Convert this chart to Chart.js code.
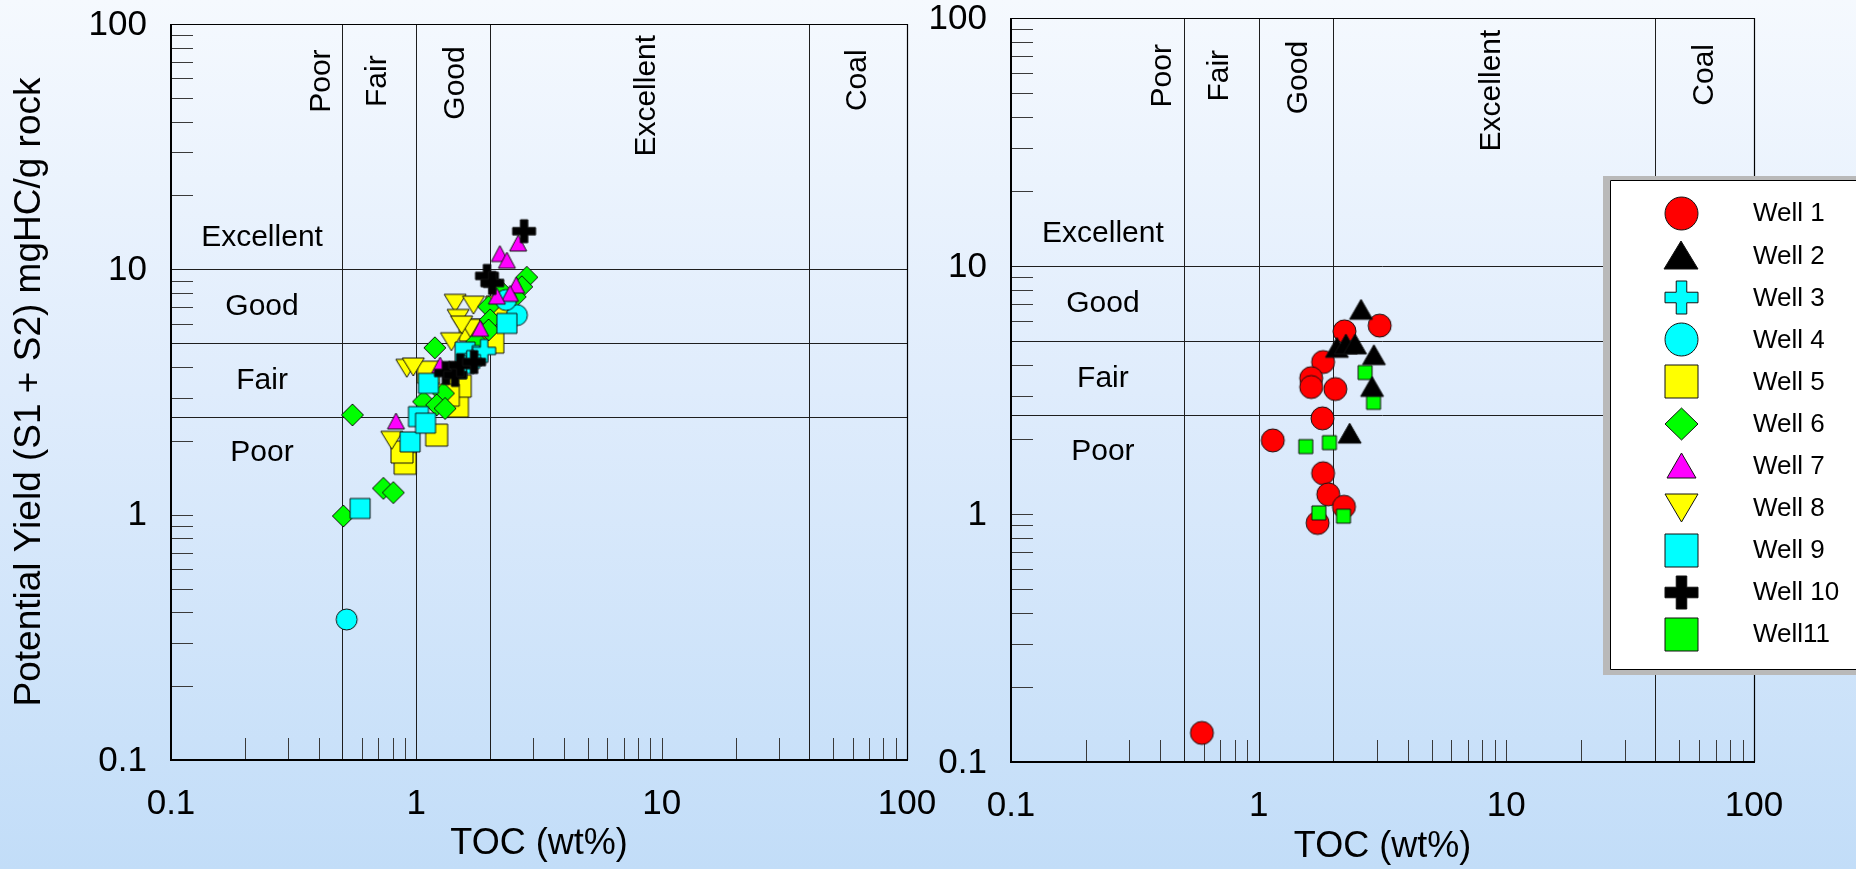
<!DOCTYPE html>
<html>
<head>
<meta charset="utf-8">
<script src="https://cdn.jsdelivr.net/npm/chart.js@4.4.1/dist/chart.umd.min.js"></script>
<style>
html,body{margin:0;padding:0;width:1856px;height:869px;overflow:hidden;
  background:linear-gradient(to bottom,#f5f9fe 0%,#dfecfc 45%,#c2ddf8 100%);}
canvas{position:absolute;top:0;}
#c1{left:0;}
#c2{left:850px;}
</style>
</head>
<body>
<canvas id="c1" width="960" height="869"></canvas>
<canvas id="c2" width="1006" height="869"></canvas>
<script>
// ---------------- DATA ----------------
const wellNames = ['Well 1','Well 2','Well 3','Well 4','Well 5','Well 6','Well 7','Well 8','Well 9','Well 10','Well11'];

// [TOC wt%, S1+S2 mgHC/g rock]
const well1 = [[3.08,5.75],[2.22,5.45],[1.82,4.10],[1.63,3.53],[1.63,3.25],[2.04,3.19],[1.81,2.43],[1.14,1.98],[1.82,1.46],[1.91,1.20],[2.21,1.07],[1.73,0.92],[0.59,0.131]];
const well2 = [[2.59,6.69],[2.07,4.70],[2.25,4.85],[2.45,4.85],[2.92,4.39],[2.87,3.27],[2.33,2.12]];
const well3 = [[1.75,4.39],[1.55,3.99],[1.89,4.65],[1.66,4.19]];
const well4 = [[0.52,0.374],[2.57,6.51],[2.32,7.5]];
const well5 = [[0.90,1.62],[0.874,1.80],[1.21,2.11],[1.47,2.77],[1.51,3.34],[1.12,3.81],[1.94,5.30],[2.13,7.02],[2.05,5.05],[1.35,3.07],[1.66,5.66]];
const well6 = [[0.504,0.987],[0.734,1.28],[0.806,1.23],[0.549,2.55],[1.19,4.79],[2.82,9.28],[2.69,8.49],[2.53,7.73],[1.97,7.04],[2.0,6.22],[1.97,5.66],[1.07,2.89],[1.29,3.12],[1.21,2.80],[1.31,2.71],[1.76,5.07],[2.19,8.23]];
const well7 = [[2.19,11.6],[2.34,10.9],[2.6,12.8],[2.55,8.63],[2.41,7.98],[1.82,5.75],[0.826,2.41],[1.25,4.07],[2.13,7.78]];
const well8 = [[1.44,7.27],[1.71,7.15],[1.48,6.31],[1.66,5.75],[1.53,5.93],[1.39,5.07],[0.914,3.95],[0.972,4.0],[0.794,2.01]];
const well9 = [[0.59,1.06],[0.943,1.98],[1.02,2.51],[1.09,2.36],[1.12,3.43],[2.34,6.02],[1.58,4.60]];
const well10 = [[2.75,14.3],[1.94,9.4],[2.04,8.8],[1.32,3.78],[1.44,3.71],[1.51,4.07],[1.72,4.19]];
const well11 = [[2.69,3.72],[2.91,2.82],[1.55,1.87],[1.93,1.94],[1.75,1.01],[2.20,0.98]];

const majorTicks = [0.1, 1, 10, 100];
const majorTickLabels = ['0.1', '1', '10', '100'];
const minorTicks = [0.2,0.3,0.4,0.5,0.6,0.7,0.8,0.9,1,2,3,4,5,6,7,8,9,10,20,30,40,50,60,70,80,90];
const tocZoneLines = [0.5, 1, 2, 40];
const yieldZoneLines = [2.5, 5, 10];
const tocClassLabels = ['Poor', 'Fair', 'Good', 'Excellent', 'Coal'];
const yieldClassLabels = ['Excellent', 'Good', 'Fair', 'Poor'];
const xTitle = 'TOC (wt%)';
const yTitle = 'Potential Yield (S1 + S2) mgHC/g rock';

// ---------------- LAYOUT / STYLE ----------------
const FONT = '"Liberation Sans", Arial, Helvetica, sans-serif';
Chart.defaults.font.family = FONT;
Chart.defaults.color = '#000';

// label anchor positions in data units [TOC, yield]
const tocClassPos = [[0.41,58.5],[0.695,58.5],[1.45,57.5],[8.7,51],[63,59]];
const yieldClassPos = [[0.235,13.5],[0.235,7.05],[0.235,3.5],[0.235,1.78]];

const wellStyle = [
  {shape:'circle',  fill:'#ff0000', w:23, h:23, lw:33, lh:33},
  {shape:'triUp',   fill:'#000000', w:23, h:20, lw:34, lh:28},
  {shape:'plus',    fill:'#00ffff', w:23, h:23, lw:33, lh:33},
  {shape:'circle',  fill:'#00ffff', w:21, h:21, lw:33, lh:33},
  {shape:'square',  fill:'#ffff00', w:22, h:22, lw:33, lh:33},
  {shape:'diamond', fill:'#00ff00', w:22, h:22, lw:33, lh:32},
  {shape:'triUp',   fill:'#ff00ff', w:17, h:16, lw:29, lh:25},
  {shape:'triDown', fill:'#ffff00', w:22, h:18, lw:33, lh:28},
  {shape:'square',  fill:'#00ffff', w:20, h:20, lw:33, lh:33},
  {shape:'plus',    fill:'#000000', w:23, h:23, lw:33, lh:33},
  {shape:'square',  fill:'#00ff00', w:14, h:14, lw:33, lh:33}
];

function markerCanvas(st, w, h) {
  const pad = 2;
  const c = document.createElement('canvas');
  c.width = Math.round(w) + pad * 2;
  c.height = Math.round(h) + pad * 2;
  const g = c.getContext('2d');
  g.translate(c.width / 2, c.height / 2);
  const hw = w / 2, hh = h / 2;
  g.beginPath();
  if (st.shape === 'circle') g.ellipse(0, 0, hw, hh, 0, 0, Math.PI * 2);
  else if (st.shape === 'square') g.rect(-hw, -hh, w, h);
  else if (st.shape === 'diamond') { g.moveTo(0,-hh); g.lineTo(hw,0); g.lineTo(0,hh); g.lineTo(-hw,0); g.closePath(); }
  else if (st.shape === 'triUp') { g.moveTo(0,-hh); g.lineTo(hw,hh); g.lineTo(-hw,hh); g.closePath(); }
  else if (st.shape === 'triDown') { g.moveTo(-hw,-hh); g.lineTo(hw,-hh); g.lineTo(0,hh); g.closePath(); }
  else if (st.shape === 'plus') {
    const t = w * 0.16;
    g.moveTo(-t,-hh); g.lineTo(t,-hh); g.lineTo(t,-t); g.lineTo(hw,-t); g.lineTo(hw,t); g.lineTo(t,t);
    g.lineTo(t,hh); g.lineTo(-t,hh); g.lineTo(-t,t); g.lineTo(-hw,t); g.lineTo(-hw,-t); g.lineTo(-t,-t); g.closePath();
  }
  g.fillStyle = st.fill; g.fill();
  g.lineWidth = 1; g.strokeStyle = '#111'; g.stroke();
  return c;
}

function drawLegend(ctx, opt) {
  const ox = opt.offsetX;
  ctx.save();
  ctx.fillStyle = '#b9b9b9';
  ctx.fillRect(1603 - ox, 176, 300, 499);
  ctx.fillStyle = '#ffffff';
  ctx.fillRect(1610 - ox, 180, 300, 489);
  ctx.strokeStyle = '#000'; ctx.lineWidth = 1;
  ctx.beginPath();
  ctx.moveTo(1910 - ox, 180.5); ctx.lineTo(1610.5 - ox, 180.5); ctx.lineTo(1610.5 - ox, 669.5); ctx.lineTo(1910 - ox, 669.5);
  ctx.stroke();
  ctx.font = '26px ' + FONT;
  ctx.textAlign = 'left'; ctx.textBaseline = 'middle'; ctx.fillStyle = '#000';
  wellNames.forEach((name, i) => {
    const cy = 213.3 + 42.1 * i;
    const st = wellStyle[i];
    const m = markerCanvas(st, st.lw, st.lh);
    ctx.drawImage(m, Math.round(1681 - ox - m.width / 2), Math.round(cy - m.height / 2));
    ctx.fillText(name, 1753 - ox, cy + 1);
  });
  ctx.restore();
}

function makeDecor(opt) {
  return {
    id: 'decor',
    beforeDatasetsDraw(chart) {
      const ctx = chart.ctx, a = chart.chartArea;
      const xs = chart.scales.x, ys = chart.scales.y;
      ctx.save();
      // minor ticks (inward)
      ctx.strokeStyle = '#3a3a3a'; ctx.lineWidth = 1;
      ctx.beginPath();
      minorTicks.forEach(v => {
        const px = Math.round(xs.getPixelForValue(v)) + 0.5;
        ctx.moveTo(px, a.bottom); ctx.lineTo(px, a.bottom - 22);
        const py = Math.round(ys.getPixelForValue(v)) + 0.5;
        ctx.moveTo(a.left, py); ctx.lineTo(a.left + 22, py);
      });
      ctx.stroke();
      // class boundary lines
      ctx.strokeStyle = '#1e1e1e'; ctx.lineWidth = 1;
      ctx.beginPath();
      tocZoneLines.forEach(v => {
        const px = Math.round(xs.getPixelForValue(v)) + 0.5;
        ctx.moveTo(px, a.top); ctx.lineTo(px, a.bottom);
      });
      yieldZoneLines.forEach(v => {
        const py = Math.round(ys.getPixelForValue(v)) + 0.5;
        ctx.moveTo(a.left, py); ctx.lineTo(a.right, py);
      });
      ctx.stroke();
      // frame
      ctx.strokeStyle = '#000';
      ctx.lineWidth = 1.2;
      ctx.beginPath();
      ctx.moveTo(a.left, a.top + 0.5); ctx.lineTo(a.right + 0.5, a.top + 0.5); ctx.lineTo(a.right + 0.5, a.bottom);
      ctx.stroke();
      ctx.lineWidth = 2;
      ctx.beginPath();
      ctx.moveTo(a.left, a.top); ctx.lineTo(a.left, a.bottom); ctx.lineTo(a.right + 1, a.bottom);
      ctx.stroke();
      // tick labels
      ctx.fillStyle = '#000';
      ctx.font = '35px ' + FONT;
      ctx.textBaseline = 'middle';
      ctx.textAlign = 'right';
      majorTicks.forEach((v, i) => {
        ctx.fillText(majorTickLabels[i], a.left - 24, ys.getPixelForValue(v) + 1);
      });
      ctx.textAlign = 'center';
      majorTicks.forEach((v, i) => {
        ctx.fillText(majorTickLabels[i], xs.getPixelForValue(v), a.bottom + 44.5);
      });
      // class labels
      ctx.font = '30px ' + FONT;
      yieldClassLabels.forEach((t, i) => {
        ctx.fillText(t, xs.getPixelForValue(yieldClassPos[i][0]), ys.getPixelForValue(yieldClassPos[i][1]));
      });
      tocClassLabels.forEach((t, i) => {
        ctx.save();
        ctx.translate(xs.getPixelForValue(tocClassPos[i][0]), ys.getPixelForValue(tocClassPos[i][1]));
        ctx.rotate(-Math.PI / 2);
        ctx.fillText(t, 0, 0);
        ctx.restore();
      });
      ctx.restore();
    },
    afterDraw(chart) {
      if (opt.legend) drawLegend(chart.ctx, opt);
    }
  };
}

function buildChart(id, wells, opt) {
  const datasets = wells.map(([idx, pts, order]) => {
    const st = wellStyle[idx];
    return {
      label: wellNames[idx],
      data: pts.map(p => ({x: p[0], y: p[1]})),
      pointStyle: markerCanvas(st, st.w, st.h),
      pointRadius: st.w / 2,
      order: order
    };
  });
  return new Chart(document.getElementById(id), {
    type: 'scatter',
    data: {datasets},
    options: {
      responsive: false,
      animation: false,
      events: [],
      layout: {padding: {left: 0, top: opt.top, right: opt.right, bottom: 0}},
      plugins: {legend: {display: false}, tooltip: {enabled: false}},
      scales: {
        x: {
          type: 'logarithmic', position: 'bottom', min: 0.1, max: 100,
          grid: {display: false}, border: {display: false},
          ticks: {display: false},
          afterBuildTicks: s => { s.ticks = majorTicks.map(v => ({value: v})); },
          afterFit: s => { s.height = opt.xAxisH; },
          title: {display: true, text: xTitle, color: '#000',
                  font: {family: FONT, size: 36, lineHeight: 1.2},
                  padding: {top: 0, bottom: opt.xTitlePad}}
        },
        y: {
          type: 'logarithmic', position: 'left', min: 0.1, max: 100,
          grid: {display: false}, border: {display: false},
          ticks: {display: false},
          afterBuildTicks: s => { s.ticks = majorTicks.map(v => ({value: v})); },
          afterFit: s => { s.width = opt.yAxisW; },
          title: {display: !!opt.yTitle, text: opt.yTitle || '', color: '#000',
                  font: {family: FONT, size: 37, lineHeight: 1.2},
                  padding: {top: 8, bottom: 0}}
        }
      }
    },
    plugins: [makeDecor(opt)]
  });
}

// left diagram: wells 3-10  ([well index, data, draw order: lower = on top])
buildChart('c1', [
  [4, well5, 8], [7, well8, 7], [5, well6, 6], [3, well4, 5],
  [6, well7, 4], [8, well9, 3], [2, well3, 2], [9, well10, 1]
], {top: 24, right: 53, xAxisH: 109, yAxisW: 171, xTitlePad: 3, yTitle: yTitle, legend: false, offsetX: 0});

// right diagram: wells 1, 2, 11 + legend of all wells
buildChart('c2', [
  [0, well1, 3], [10, well11, 2], [1, well2, 1]
], {top: 18, right: 102, xAxisH: 107, yAxisW: 161, xTitlePad: 0, yTitle: '', legend: true, offsetX: 850});
</script>
</body>
</html>
